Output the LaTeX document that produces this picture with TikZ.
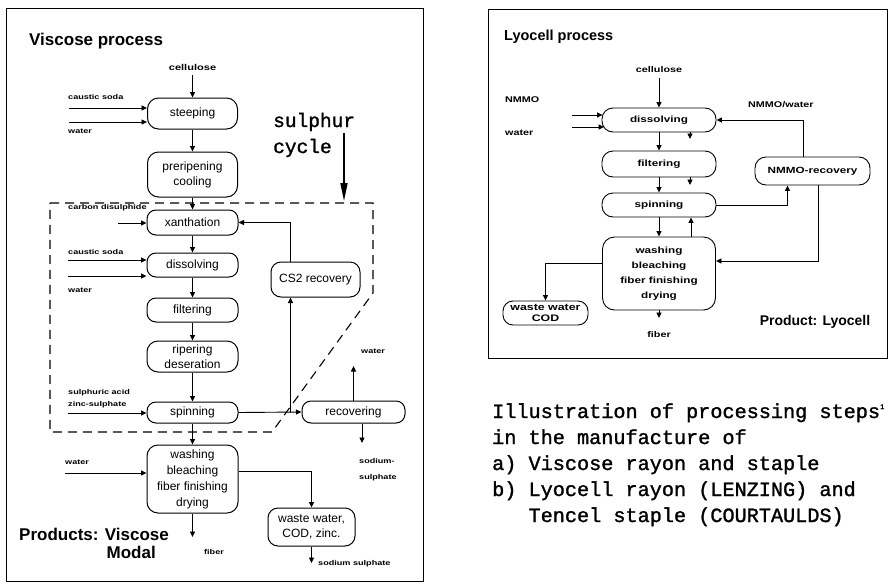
\documentclass[tikz,border=0pt]{standalone}
\usepackage{fontspec}
\setmainfont{Liberation Sans}
\newfontfamily\lblfont[FakeStretch=1.3]{Liberation Sans}
\newfontfamily\monofont[FakeBold=1.4]{Liberation Mono}
\usetikzlibrary{arrows.meta}

\begin{document}
\begin{tikzpicture}[x=1pt,y=-1pt,
  lbox/.style={draw, line width=1pt, rounded corners=9pt, inner sep=0pt, align=center,
               font=\fontsize{12}{15}\selectfont},
  rbox/.style={draw, line width=0.9pt, rounded corners=11pt, inner sep=0pt, align=center,
               font=\lblfont\bfseries\fontsize{9}{12}\selectfont},
  arr/.style={line width=0.9pt, -{Triangle[length=5.5pt,width=5pt]}},
  slab/.style={font=\lblfont\bfseries\fontsize{7}{9}\selectfont, inner sep=0pt},
  rlab/.style={font=\lblfont\bfseries\fontsize{8.3}{10}\selectfont, inner sep=0pt},
  title/.style={font=\bfseries\fontsize{17}{20}\selectfont, inner sep=0pt},
  ttext/.style={font=\monofont\fontsize{19.5}{22}\selectfont, inner sep=0pt, anchor=base west},
  captext/.style={font=\monofont\fontsize{20.2}{22}\selectfont, inner sep=0pt, anchor=base west},
  frame/.style={draw, line width=0.9pt},
]
\useasboundingbox (0,0) rectangle (889,584);

% panel frames
\draw[frame] (6,8) rectangle (423,581);
\draw[frame] (488,9) rectangle (887,358);

% ---------------- viscose process ----------------
\node[title, anchor=west] (vtitle) at (29,41) {Viscose process};
\node[slab, font=\lblfont\bfseries\fontsize{8.5}{10}\selectfont] (vcell) at (192.5,67) {cellulose};

\node[lbox, minimum width=90pt, minimum height=31pt, rounded corners=11pt] (steep) at (192.5,113.5) {steeping};
\node[lbox, minimum width=90pt, minimum height=45pt, rounded corners=11pt] (prerip) at (192.5,174.5) {preripening\\cooling};
\node[lbox, minimum width=91pt, minimum height=25pt] (xanth) at (192.5,222.5) {xanthation};
\node[lbox, minimum width=91pt, minimum height=24pt] (vdiss) at (192.5,265) {dissolving};
\node[lbox, minimum width=91pt, minimum height=24pt] (vfilt) at (192.5,310) {filtering};
\node[lbox, minimum width=91pt, minimum height=31pt, rounded corners=11pt] (riper) at (192.5,356.5) {ripering\\deseration};
\node[lbox, minimum width=91pt, minimum height=21pt] (vspin) at (192.5,412.5) {spinning};
\node[lbox, minimum width=91pt, minimum height=68pt, rounded corners=11pt,
      font=\fontsize{12}{16}\selectfont] (vwash) at (192.5,479) {washing\\bleaching\\fiber finishing\\drying};
\node[lbox, minimum width=89pt, minimum height=35pt, rounded corners=10pt] (cs2) at (315.5,279.5) {CS2 recovery};
\node[lbox, minimum width=103pt, minimum height=22pt] (recov) at (353.5,412) {recovering};
\node[lbox, minimum width=87pt, minimum height=38pt, rounded corners=10pt] (vwaste) at (311.5,527) {waste water,\\COD, zinc.};

% input labels
\node[slab, anchor=west] (csoda1) at (68,97) {caustic soda};
\node[slab, anchor=west] (water1) at (68,131) {water};
\node[slab, anchor=west] (cdis) at (68,208) {carbon disulphide};
\node[slab, anchor=west] (csoda2) at (68,252) {caustic soda};
\node[slab, anchor=west] (water2) at (68,290) {water};
\node[slab, anchor=west] (sacid) at (68,393) {sulphuric acid};
\node[slab, anchor=west] (zinc) at (68,405) {zinc-sulphate};
\node[slab, anchor=west] (water3) at (65,462) {water};
\node[slab, anchor=west] (water4) at (361,351) {water};
\node[slab, anchor=west, align=left, font=\lblfont\bfseries\fontsize{7}{16}\selectfont] (sodium) at (359,470) {sodium-\\sulphate};
\node[slab, anchor=west] (ssul) at (318,564) {sodium sulphate};
\node[slab] (vfib) at (214,552) {fiber};
\node[title, anchor=east] (prod1) at (169,534) {Products: Viscose};
\node[title, anchor=east] (prod2) at (156,552) {Modal};

% free ends of inputs and outputs
\coordinate (in1) at (69,108);
\coordinate (in2) at (69,122);
\coordinate (in3) at (118,223);
\coordinate (in4) at (68,260);
\coordinate (in5) at (68,276);
\coordinate (in6) at (68,413);
\coordinate (in7) at (65,473);
\coordinate (wout) at (353.5,366);
\coordinate (sout) at (362,443);
\coordinate (ssout) at (311.5,563);
\coordinate (fout) at (192.5,537);
\coordinate (cs2l) at ([xshift=-25pt]cs2.north);

% main line
\draw[arr, shorten <=5pt] (vcell.south) -- (steep.north);
\draw[arr] (steep.south) -- (prerip.north);
\draw[arr] (prerip.south) -- (xanth.north);
\draw[arr] (xanth.south) -- (vdiss.north);
\draw[arr] (vdiss.south) -- (vfilt.north);
\draw[arr] (vfilt.south) -- (riper.north);
\draw[arr] (riper.south) -- (vspin.north);
\draw[arr] (vspin.south) -- (vwash.north);
\draw[arr] (vwash.south) -- (fout);

% feeds
\draw[arr] (in1) -- (in1 -| steep.west);
\draw[arr] (in2) -- (in2 -| steep.west);
\draw[arr] (in3) -- (in3 -| xanth.west);
\draw[arr] (in4) -- (in4 -| vdiss.west);
\draw[arr] (in5) -- (in5 -| vdiss.west);
\draw[arr] (in6) -- (in6 -| vspin.west);
\draw[arr] (in7) -- (in7 -| vwash.west);

% recovery loops
\draw[arr] (cs2l) |- (xanth.east);
\draw[arr] (vspin.east) -- (recov.west);
\draw[arr] (vspin.east -| cs2l) -- (cs2l |- cs2.south);
\draw[arr] (recov.north) -- (wout);
\draw[arr] (recov.south -| sout) -- (sout);
\draw[arr] ([yshift=8pt]vwash.east) -| (vwaste.north);
\draw[arr] (vwaste.south) -- (ssout);

% sulphur cycle
\node[ttext] (sul) at (273,127) {sulphur};
\node[ttext] (cyc) at (273,153) {cycle};
\coordinate (sc1) at (344,133);
\coordinate (sc2) at (344,201);
\draw[line width=1.6pt, -{Triangle[length=18pt,width=7pt]}] (sc1) -- (sc2);
\draw[line width=1.1pt, dash pattern=on 9pt off 6pt]
  (50,203) -- (373,203) -- (373,293) -- (272,432) -- (50,432) -- cycle;

% ---------------- lyocell process ----------------
\node[title, anchor=west, font=\bfseries\fontsize{14.5}{17}\selectfont] (ltitle) at (504,37) {Lyocell process};
\node[rlab] (lcell) at (659,70) {cellulose};
\node[rbox, minimum width=114pt, minimum height=24pt] (ldiss) at (659,120) {dissolving};
\node[rbox, minimum width=114pt, minimum height=26pt] (lfilt) at (659,164) {filtering};
\node[rbox, minimum width=114pt, minimum height=24pt] (lspin) at (659,205) {spinning};
\node[rbox, minimum width=113pt, minimum height=73pt, rounded corners=12pt,
      font=\lblfont\bfseries\fontsize{9}{15}\selectfont] (lwash) at (659,273.5) {washing\\bleaching\\fiber finishing\\drying};
\node[rbox, minimum width=115pt, minimum height=28pt] (nrec) at (812.5,171) {NMMO-recovery};
\node[rbox, minimum width=85pt, minimum height=24pt, rounded corners=10pt,
      font=\lblfont\bfseries\fontsize{9.5}{10.5}\selectfont] (lwaste) at (545.5,313) {waste water\\COD};

\node[rlab, anchor=west] (nmmo) at (505,100) {NMMO};
\node[rlab, anchor=west] (lwater) at (505,133) {water};
\node[rlab, anchor=west] (nwlab) at (748,105) {NMMO/water};
\node[rlab] (lfib) at (659,335) {fiber};
\node[title, font=\bfseries\fontsize{14}{17}\selectfont] (lprod) at (815,322) {Product: Lyocell};

\coordinate (rin1) at (572,115);
\coordinate (rin2) at (572,127);
\coordinate (sa1) at (690,139);
\coordinate (sa2) at (690,185);
\coordinate (upx) at (691,225);
\coordinate (lfout) at (659,318);
\coordinate (nrt) at ([xshift=-9pt]nrec.north);
\coordinate (nrb) at ([xshift=6pt]nrec.south);
\coordinate (nrb2) at ([xshift=-25pt]nrec.south);

\draw[arr, shorten <=5pt] (lcell.south) -- (ldiss.north);
\draw[arr, shorten >=-1pt] (rin1) -- (rin1 -| ldiss.west);
\draw[arr, shorten >=-2.5pt] (rin2) -- (rin2 -| ldiss.west);
\draw[arr] (ldiss.south) -- (lfilt.north);
\draw[arr] (ldiss.south -| sa1) -- (sa1);
\draw[arr] (lfilt.south) -- (lspin.north);
\draw[arr] (lfilt.south -| sa2) -- (sa2);
\draw[arr] (lspin.south) -- (lwash.north);
\draw[arr] (lwash.north -| upx) -- (lspin.south -| upx);
\draw[arr] (lwash.south) -- (lfout);
\draw[arr] (lspin.east) -| (nrb2);
\draw[arr] (nrt) |- (ldiss.east);
\draw[arr] (nrb) |- ([yshift=12.5pt]lwash.east);
\draw[arr] ([yshift=10.5pt]lwash.west) -| (lwaste.north);

% ---------------- caption ----------------
\node[captext] (cap1) at (492,418) {Illustration of processing steps\raisebox{9pt}{\fontsize{7}{7}\selectfont 1}};
\node[captext] (cap2) at (492,444) {in the manufacture of};
\node[captext] (cap3) at (492,470) {a) Viscose rayon and staple};
\node[captext] (cap4) at (492,496) {b) Lyocell rayon (LENZING) and};
\node[captext] (cap5) at (492,522) {\phantom{b) }Tencel staple (COURTAULDS)};
\end{tikzpicture}
\end{document}
